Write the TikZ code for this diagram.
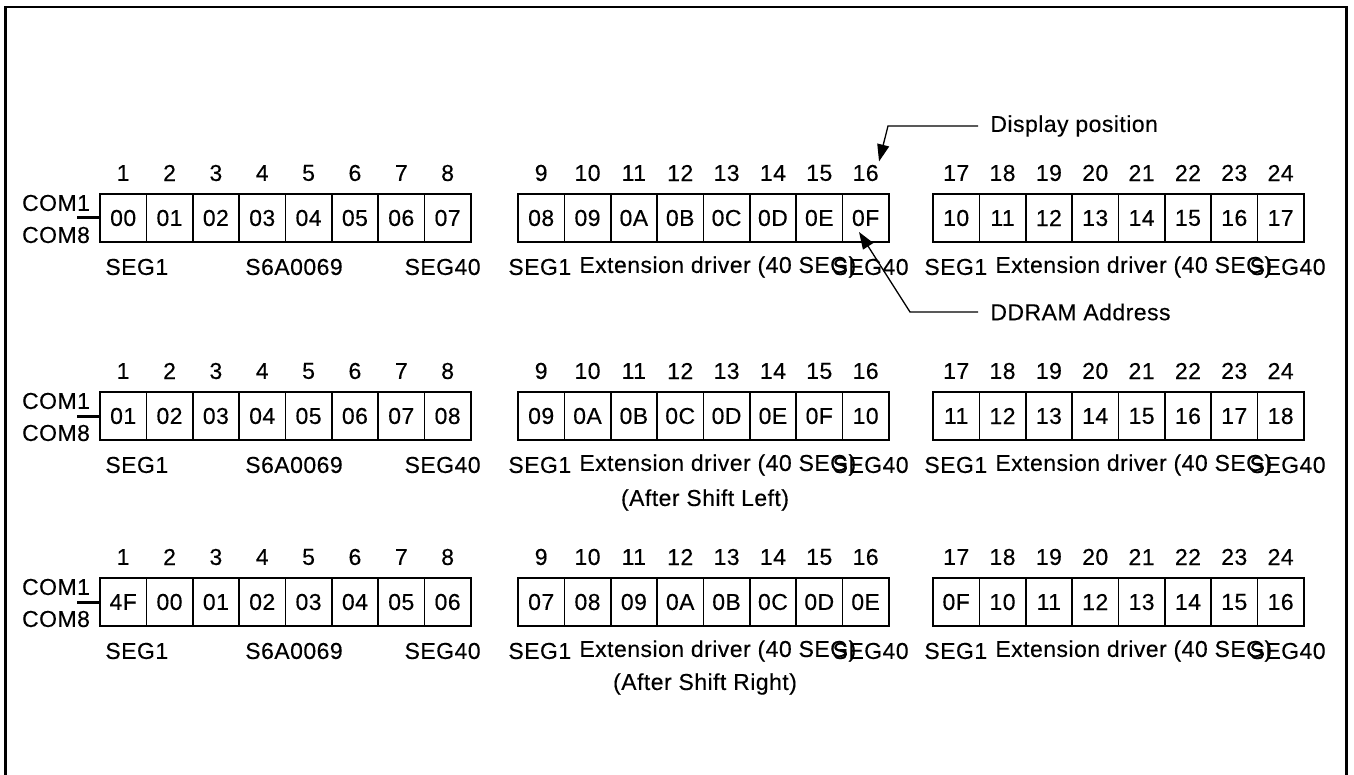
\documentclass[tikz,border=0pt]{standalone}
\usepackage{fontspec}
\setmainfont{Liberation Sans}[LetterSpace=2,FakeBold=0.3]
\usetikzlibrary{arrows.meta,calc}
\tikzset{
  txt/.style={font=\fontsize{11.5pt}{13.5pt}\selectfont, inner sep=0pt},
  cell/.style={txt, draw, line width=0.8pt, minimum width=23.175pt, minimum height=24pt},
  frameline/.style={line width=1.4pt},
  comline/.style={line width=1.5pt},
  arr/.style={line width=0.65pt, -{Triangle[length=8.5pt,width=6pt]}}
}
\newcommand\lcdrow[5]{%
  \foreach \v [count=\i] in {#3} {
    \node[cell] (c#1-1-\i) at ({100+(\i-0.5)*46.35},{#2+24}) {\v};
    \node[txt] (n#1-1-\i) at ({100+(\i-0.5)*46.35},{#2-21}) {\i};
  }
  \foreach \v [count=\i, evaluate=\i as \k using int(\i+8)] in {#4} {
    \node[cell] (c#1-2-\i) at ({518+(\i-0.5)*46.35},{#2+24}) {\v};
    \node[txt] (n#1-2-\i) at ({518+(\i-0.5)*46.35},{#2-21}) {\k};
  }
  \foreach \v [count=\i, evaluate=\i as \k using int(\i+16)] in {#5} {
    \node[cell] (c#1-3-\i) at ({933+(\i-0.5)*46.35},{#2+24}) {\v};
    \node[txt] (n#1-3-\i) at ({933+(\i-0.5)*46.35},{#2-21}) {\k};
  }
  \node[txt] (com1-#1) at (56,{#2+9}) {COM1};
  \node[txt] (com8-#1) at (56,{#2+41}) {COM8};
  \coordinate (cm#1) at (77,{#2+24});
  \draw[comline] (cm#1) -- (c#1-1-1.west);
  \node[txt,anchor=west] (sa#1) at (105,{#2+73}) {SEG1};
  \node[txt] (sb#1) at (294,{#2+73}) {S6A0069};
  \node[txt,anchor=east] (sc#1) at (481,{#2+73}) {SEG40};
  \node[txt,anchor=west] (sd#1) at (508,{#2+73}) {SEG1};
  \node[txt,anchor=west] (se#1) at (579,{#2+73}) {Extension driver (40 SEG)};
  \node[txt,anchor=east] (sf#1) at (909,{#2+73}) {SEG40};
  \node[txt,anchor=west] (sg#1) at (924,{#2+73}) {SEG1};
  \node[txt,anchor=west] (sh#1) at (995,{#2+73}) {Extension driver (40 SEG)};
  \node[txt,anchor=east] (si#1) at (1326,{#2+73}) {SEG40};
}
\begin{document}
\begin{tikzpicture}[x=0.5pt,y=-0.5pt]
\useasboundingbox (0,0) rectangle (1354,775);
\draw[frameline] (5.3,776) -- (5.3,7) -- (1346.3,7) -- (1346.3,776);

\lcdrow{1}{194}{00,01,02,03,04,05,06,07}{08,09,0A,0B,0C,0D,0E,0F}{10,11,12,13,14,15,16,17}
\lcdrow{2}{392}{01,02,03,04,05,06,07,08}{09,0A,0B,0C,0D,0E,0F,10}{11,12,13,14,15,16,17,18}
\lcdrow{3}{578}{4F,00,01,02,03,04,05,06}{07,08,09,0A,0B,0C,0D,0E}{0F,10,11,12,13,14,15,16}

\node[txt] (capL) at (705,500) {(After Shift Left)};
\node[txt] (capR) at (705,684) {(After Shift Right)};

\node[txt,anchor=west] (dp) at (990,126) {Display position};
\coordinate (dps) at (978,126);
\coordinate (dpk) at (888,126);
\draw[arr] (dps) -- (dpk) -- ($(n1-2-8.north east)+(0,-3)$);

\node[txt,anchor=west] (dd) at (990,312) {DDRAM Address};
\coordinate (dds) at (978,312);
\coordinate (ddk) at (910,312);
\coordinate (ddt) at ($(c1-2-8.center)+(-6.6,14)$);
\draw[arr] (dds) -- (ddk) -- (ddt);
\end{tikzpicture}
\end{document}
